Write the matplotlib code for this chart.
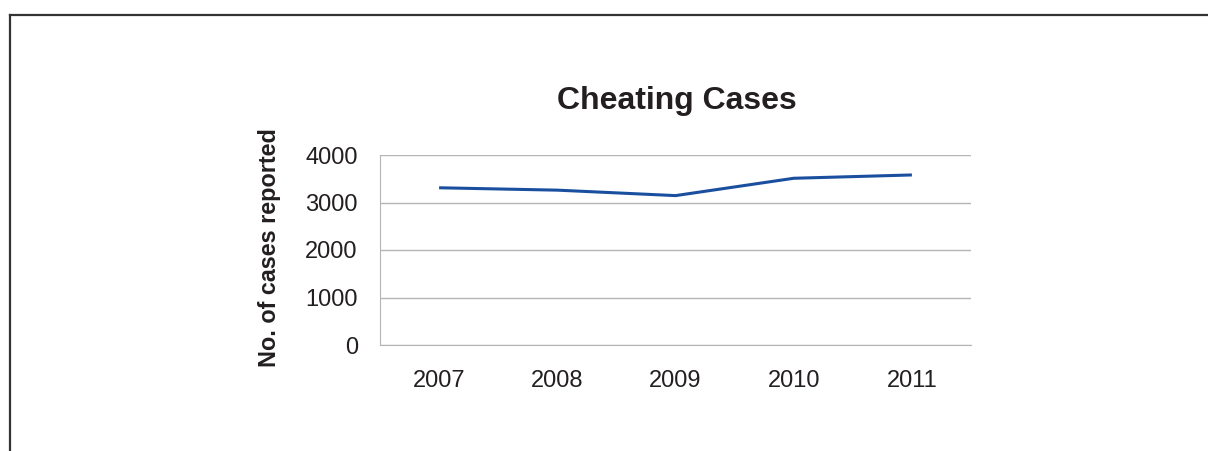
import matplotlib
matplotlib.use("Agg")
import matplotlib.pyplot as plt
from matplotlib.lines import Line2D

# data
years = ["2007", "2008", "2009", "2010", "2011"]
cases = [3310, 3260, 3145, 3510, 3580]
yticks = [0, 1000, 2000, 3000, 4000]

plt.rcParams['font.family'] = ['Liberation Sans', 'DejaVu Sans']

W, H = 1208, 451
fig = plt.figure(figsize=(W / 100, H / 100), dpi=100)

# axes box in pixels: left 380, right 971, top 155, bottom 345
ax = fig.add_axes([380 / W, 1 - 345 / H, (971 - 380) / W, (345 - 155) / H])

x = list(range(len(years)))
ax.plot(x, cases, color="#1a4f9f", linewidth=2.2, solid_capstyle="butt")

ax.set_xlim(-0.5, len(years) - 0.5)
ax.set_ylim(0, 4000)
ax.set_xticks(x)
ax.set_xticklabels(years)
ax.set_yticks(yticks)
ax.tick_params(axis="both", length=0, labelsize=17, colors="#231f20")
ax.tick_params(axis="x", pad=18)
ax.tick_params(axis="y", pad=16)
ax.grid(axis="y", color="#b5b5b5", linewidth=1)
ax.set_axisbelow(True)
for s in ["top", "right"]:
    ax.spines[s].set_visible(False)
ax.spines["left"].set_color("#b5b5b5")
ax.spines["bottom"].set_color("#b5b5b5")

ax.set_ylabel("No. of cases reported", fontsize=16.8, fontweight="bold", color="#231f20")
ax.yaxis.set_label_coords(-0.168, 0.515)
fig.text(677 / W, 1 - 101 / H, "Cheating Cases", ha="center", va="center",
         fontsize=23, fontweight="bold", color="#231f20")

# outer frame (top and left only)
fig.add_artist(Line2D([9.5 / W, 1.0], [1 - 14.5 / H, 1 - 14.5 / H], color="#333333", linewidth=1.6))
fig.add_artist(Line2D([9.5 / W, 9.5 / W], [1 - 14.5 / H, 0], color="#333333", linewidth=1.6))

fig.savefig("out.png", dpi=100)
